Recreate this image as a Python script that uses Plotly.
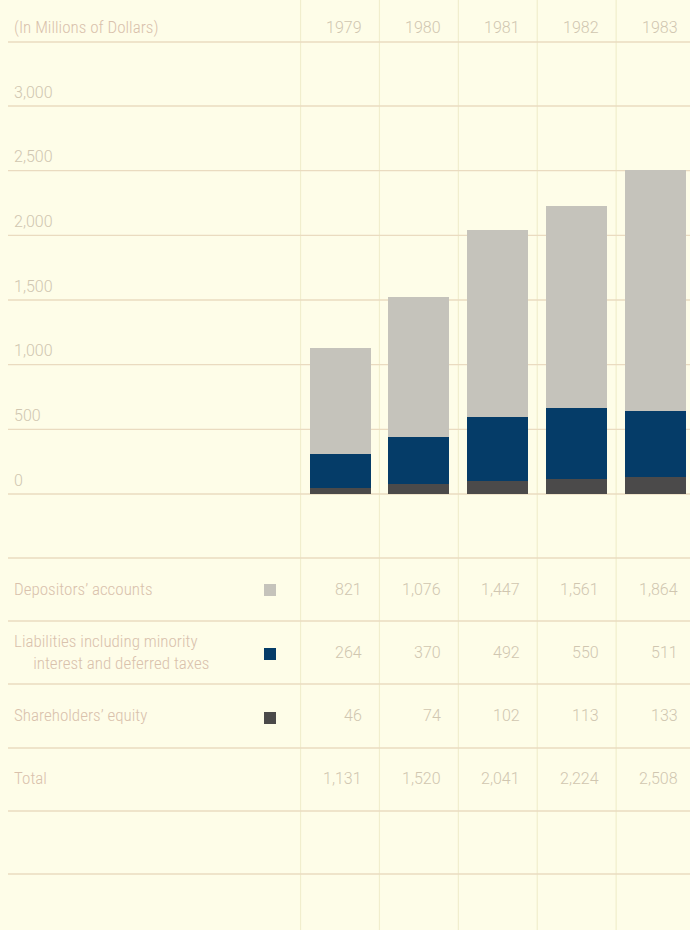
import plotly.graph_objects as go

# ---- data -------------------------------------------------------------
years = ["1979", "1980", "1981", "1982", "1983"]
depositors = [821, 1076, 1447, 1561, 1864]
liabilities = [264, 370, 492, 550, 511]
equity = [46, 74, 102, 113, 133]
totals = [1131, 1520, 2041, 2224, 2508]

y_ticks = [0, 500, 1000, 1500, 2000, 2500, 3000]
row_labels = [
    "Depositors\u2019 accounts",
    "Liabilities including minority<br>     interest and deferred taxes",
    "Shareholders\u2019 equity",
    "Total",
]

# ---- styling ----------------------------------------------------------
W, H = 690, 930
BG = "#fefde8"
RULE = "#eadbc0"
VRULE = "#f1eecd"
LABEL = "#d9c1ac"
NUM = "#d0c6b0"
C_DEP = "#c5c3bb"
C_LIA = "#053c68"
C_EQ = "#4b4a4a"
FONT = "Roboto Condensed, Roboto, sans-serif"
NUM_FONT = "Roboto, sans-serif"

# pixel geometry of the plotting frame
X0_PX = 340.0        # centre of first year column
COL_PX = 78.9        # width of a year column
ZERO_PX = 494.0      # baseline (value 0)
UNIT_PX = 388.0 / 3000.0   # pixels per million
NUM_SHIFT = 24       # right edge of column figures, relative to column centre

x_range = [(0 - X0_PX) / COL_PX, (W - X0_PX) / COL_PX]
y_range = [(ZERO_PX - H) / UNIT_PX, ZERO_PX / UNIT_PX]
xs = list(range(len(years)))


def py(p):
    """pixel row -> paper y"""
    return 1 - p / H


fig = go.Figure()
bar_w = 61 / COL_PX
for name, vals, col in [
    ("Shareholders\u2019 equity", equity, C_EQ),
    ("Liabilities including minority interest and deferred taxes", liabilities, C_LIA),
    ("Depositors\u2019 accounts", depositors, C_DEP),
]:
    fig.add_trace(go.Bar(x=xs, y=vals, name=name, marker=dict(color=col, line=dict(width=0)),
                         width=bar_w, showlegend=False, hoverinfo="skip"))

shapes = []
# vertical column rules
for i in range(len(years)):
    shapes.append(dict(type="line", xref="x", yref="paper", x0=i - 0.5, x1=i - 0.5,
                       y0=0, y1=1, line=dict(color=VRULE, width=1.2), layer="below"))
# horizontal rules for the value scale
for v in y_ticks:
    shapes.append(dict(type="line", xref="paper", yref="y", x0=8 / W, x1=1, y0=v, y1=v,
                       line=dict(color=RULE, width=1.4), layer="below"))
# header and table rules
for p in [42, 558, 621, 684, 748, 811, 874]:
    shapes.append(dict(type="line", xref="paper", yref="paper", x0=8 / W, x1=1,
                       y0=py(p), y1=py(p), line=dict(color=RULE, width=1.4), layer="below"))
# legend swatches
for p, col in [(590, C_DEP), (654, C_LIA), (718, C_EQ)]:
    shapes.append(dict(type="rect", xref="paper", yref="paper",
                       x0=264 / W, x1=276 / W, y0=py(p + 6), y1=py(p - 6),
                       fillcolor=col, line=dict(width=0), layer="above"))

ann = []
font_l = dict(family=FONT, size=17, color=LABEL, weight=300)
font_n = dict(family=NUM_FONT, size=16, color=NUM, weight=300)
ann.append(dict(text="(In Millions of Dollars)", xref="paper", yref="paper", x=12 / W, y=py(27),
                xanchor="left", yanchor="middle", showarrow=False, font=font_l))
for v in y_ticks:
    ann.append(dict(text=f"{v:,}", xref="paper", yref="y", x=12 / W, y=v, yshift=14,
                    xanchor="left", yanchor="middle", showarrow=False, font=font_n))
# year headers
for i, yr in enumerate(years):
    ann.append(dict(text=yr, xref="x", yref="paper", x=i, xshift=NUM_SHIFT, y=py(27),
                    xanchor="right", yanchor="middle", showarrow=False, font=font_n))
# row labels
row_px = [589, 652, 715, 778]
for lab, p in zip(row_labels, row_px):
    ann.append(dict(text=lab, xref="paper", yref="paper", x=12 / W, y=py(p), align="left",
                    xanchor="left", yanchor="middle", showarrow=False, font=font_l))
# table values
for series, p in zip([depositors, liabilities, equity, totals], row_px):
    for i, v in enumerate(series):
        ann.append(dict(text=f"{v:,}", xref="x", yref="paper", x=i, xshift=NUM_SHIFT, y=py(p),
                        xanchor="right", yanchor="middle", showarrow=False, font=font_n))

fig.update_layout(
    width=W, height=H, margin=dict(l=0, r=0, t=0, b=0),
    paper_bgcolor=BG, plot_bgcolor=BG, barmode="stack", bargap=0,
    xaxis=dict(range=x_range, visible=False, fixedrange=True),
    yaxis=dict(range=y_range, visible=False, fixedrange=True),
    shapes=shapes, annotations=ann, font=dict(family=FONT),
)

fig.write_html("out.html", config={"displayModeBar": False})
